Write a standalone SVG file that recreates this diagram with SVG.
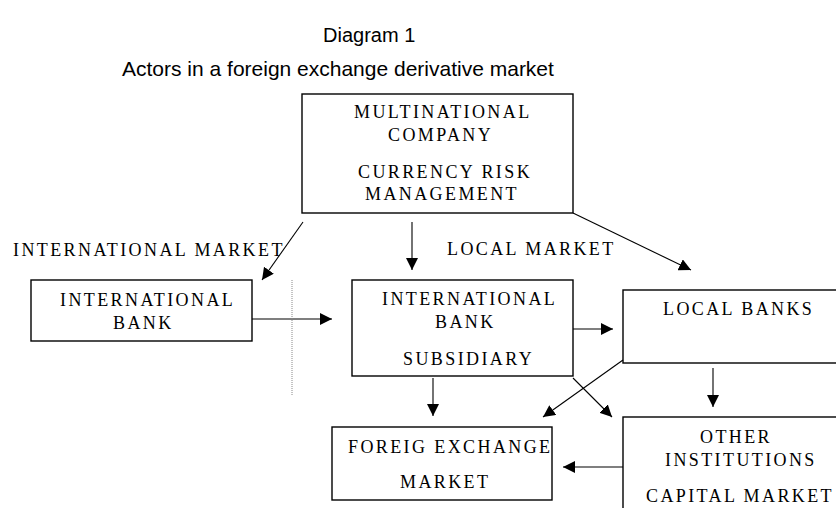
<svg xmlns="http://www.w3.org/2000/svg" width="836" height="508" viewBox="0 0 836 508">
<style>
.t{font-family:"Liberation Sans",Arial,sans-serif;font-size:21px;fill:#000}
.n{font-family:"Liberation Serif","Times New Roman",serif;font-size:18px;letter-spacing:2.4px;fill:#000}
.b{fill:#fff;stroke:#000;stroke-width:1.4}
.c line{stroke:#000;stroke-width:1.1}
</style>
<defs>
<marker id="ah" markerUnits="userSpaceOnUse" markerWidth="13" markerHeight="12" refX="12" refY="6" orient="auto">
<path d="M0,0 L12,6 L0,12 z" fill="#000"/>
</marker>
</defs>
<rect width="836" height="508" fill="#fff"/>
<text class="t" x="323" y="42" style="font-size:20px">Diagram 1</text>
<text class="t" x="122" y="76">Actors in a foreign exchange derivative market</text>

<g id="mnc">
<rect class="b" x="302" y="94" width="271" height="119"/>
<text class="n" x="354" y="118">MULTINATIONAL</text>
<text class="n" x="388" y="141">COMPANY</text>
<text class="n" x="358" y="178">CURRENCY RISK</text>
<text class="n" x="365" y="200">MANAGEMENT</text>
</g>
<g id="labels">
<text class="n" x="13" y="256">INTERNATIONAL MARKET</text>
<text class="n" x="447" y="255">LOCAL MARKET</text>
</g>
<g id="intbank">
<rect class="b" x="31" y="280" width="221" height="61"/>
<text class="n" x="60" y="306">INTERNATIONAL</text>
<text class="n" x="113" y="329">BANK</text>
</g>
<g id="subsidiary">
<rect class="b" x="352" y="280" width="221" height="96"/>
<text class="n" x="382" y="305">INTERNATIONAL</text>
<text class="n" x="435" y="328">BANK</text>
<text class="n" x="403" y="365">SUBSIDIARY</text>
</g>
<g id="localbanks">
<rect class="b" x="623" y="290" width="230" height="73"/>
<text class="n" x="663" y="315">LOCAL BANKS</text>
</g>
<g id="fxmarket">
<rect class="b" x="332" y="427" width="220" height="73"/>
<text class="n" x="348" y="453">FOREIG EXCHANGE</text>
<text class="n" x="400" y="488">MARKET</text>
</g>
<g id="other">
<rect class="b" x="623" y="417" width="230" height="110"/>
<text class="n" x="700" y="443">OTHER</text>
<text class="n" x="665" y="466">INSTITUTIONS</text>
<text class="n" x="646" y="502">CAPITAL MARKET</text>
</g>
<g id="connectors" class="c">
<line x1="303" y1="222" x2="262" y2="280" marker-end="url(#ah)"/>
<line x1="412" y1="222" x2="412" y2="270" marker-end="url(#ah)"/>
<line x1="573" y1="213" x2="691" y2="270" marker-end="url(#ah)"/>
<line x1="252" y1="319" x2="332" y2="319" marker-end="url(#ah)"/>
<line x1="573" y1="329" x2="613" y2="329" marker-end="url(#ah)"/>
<line x1="713" y1="368" x2="713" y2="407" marker-end="url(#ah)"/>
<line x1="623" y1="360" x2="543" y2="417" marker-end="url(#ah)"/>
<line x1="573" y1="378" x2="612" y2="417" marker-end="url(#ah)"/>
<line x1="433" y1="378" x2="433" y2="416" marker-end="url(#ah)"/>
<line x1="623" y1="467" x2="563" y2="467" marker-end="url(#ah)"/>
<line x1="292" y1="280" x2="292" y2="395" style="stroke:#888;stroke-width:1;stroke-dasharray:1 1"/>
</g>
</svg>
